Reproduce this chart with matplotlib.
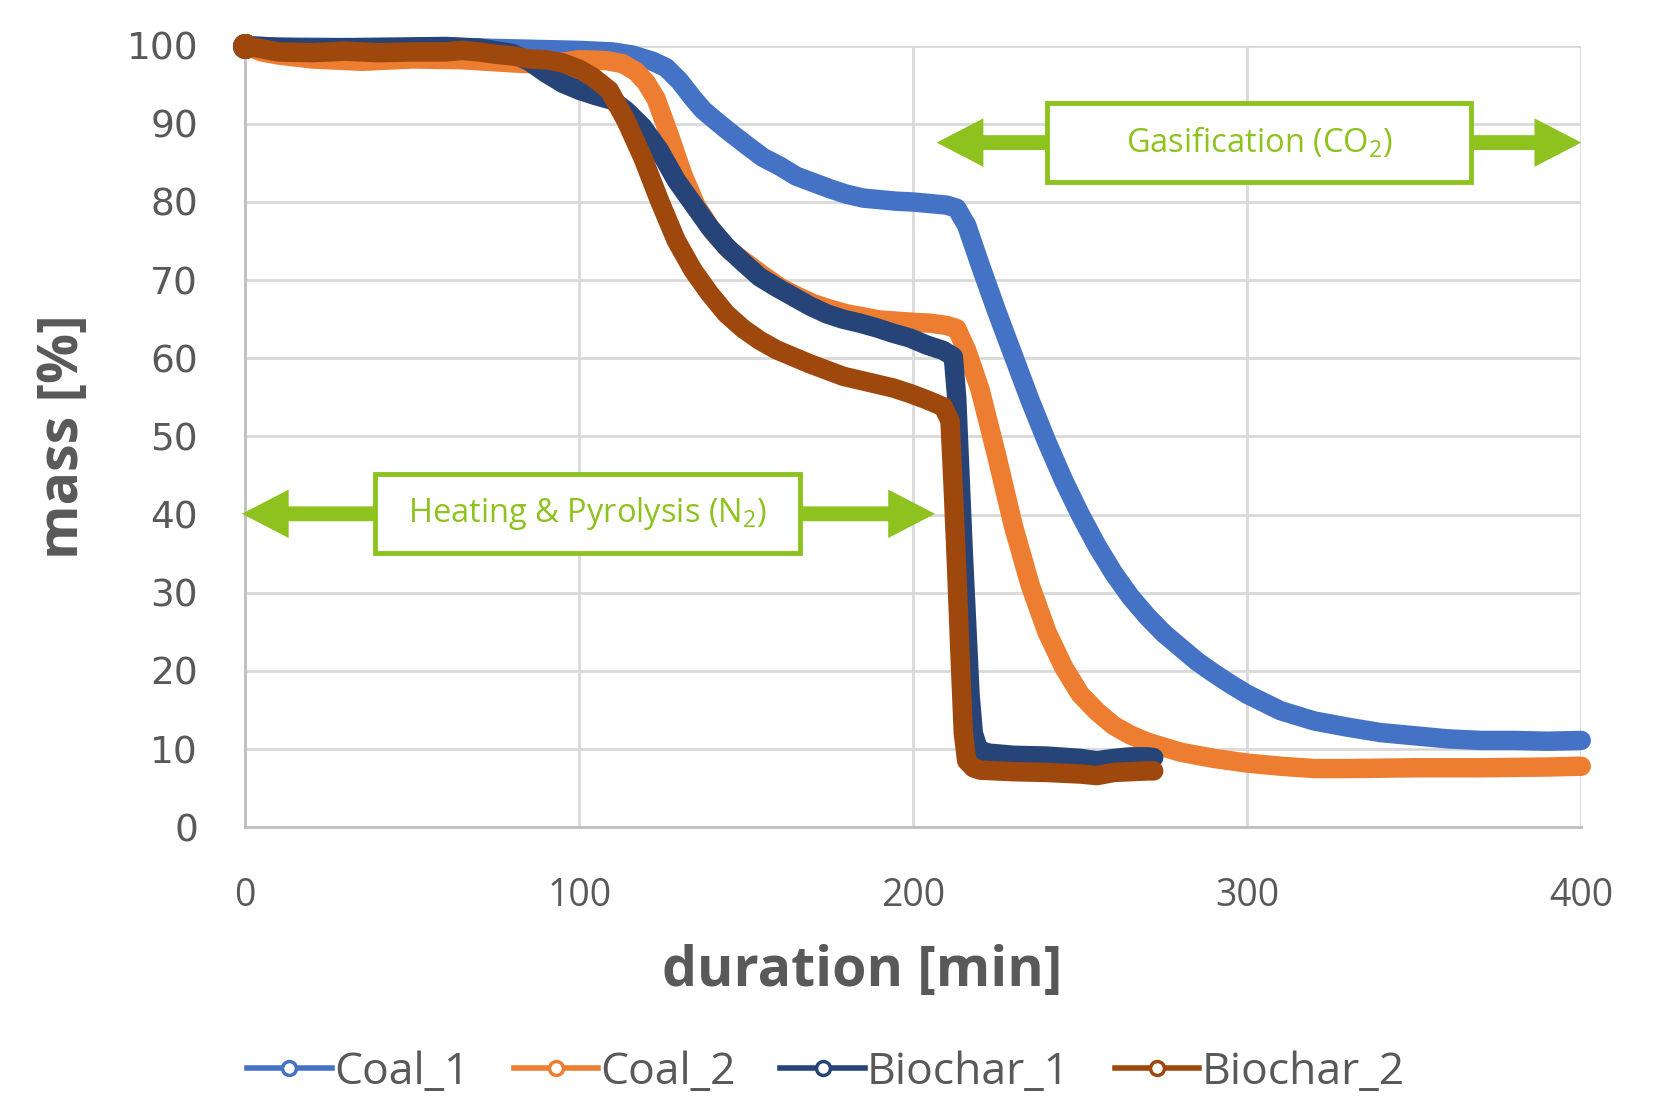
import matplotlib
matplotlib.use("Agg")
import matplotlib.pyplot as plt
from matplotlib.patches import FancyArrow, Rectangle
from matplotlib.lines import Line2D

plt.rcParams['font.family'] = ['Open Sans', 'DejaVu Sans']
plt.rcParams['mathtext.default'] = 'regular'

# thermogravimetric runs, mass in % vs duration in min
coal1_t = [0, 10, 20, 40, 60, 80, 90, 100, 110, 116, 122, 126, 130, 134, 137, 140, 144,
           150, 155, 160, 165, 170, 175, 180, 185, 190, 195, 200, 205, 210, 213, 216,
           220, 225, 230, 235, 240, 245, 250, 255, 260, 265, 270, 275, 280, 285, 290,
           295, 300, 310, 320, 330, 340, 350, 360, 370, 380, 390, 400]
coal1_m = [100, 99.8, 99.8, 99.7, 99.8, 99.6, 99.5, 99.4, 99.2, 98.8, 98.0, 97.2, 95.5,
           93.3, 91.8, 90.7, 89.3, 87.3, 85.7, 84.6, 83.3, 82.5, 81.7, 81.0, 80.5, 80.3,
           80.1, 80.0, 79.8, 79.6, 79.2, 77.0, 72.0, 66.0, 60.3, 54.6, 49.3, 44.4, 40.0,
           36.0, 32.5, 29.5, 27.0, 24.8, 23.0, 21.2, 19.7, 18.3, 17.0, 14.9, 13.6, 12.8,
           12.1, 11.7, 11.3, 11.1, 11.1, 11.0, 11.1]

coal2_t = [0, 5, 10, 20, 35, 50, 65, 80, 90, 100, 108, 113, 117, 120, 123, 127, 131,
           135, 140, 145, 150, 155, 160, 165, 170, 175, 180, 190, 200, 205, 210, 213,
           216, 220, 225, 230, 235, 240, 245, 250, 255, 260, 265, 270, 280, 290, 300,
           310, 320, 330, 350, 370, 390, 400]
coal2_m = [100, 99.2, 98.8, 98.3, 98.0, 98.3, 98.2, 97.8, 97.6, 98.2, 98.1, 97.7, 96.7,
           95.3, 93.2, 88.5, 83.5, 79.5, 76.2, 73.8, 72.2, 70.6, 69.1, 68.0, 67.0, 66.3,
           65.7, 64.9, 64.6, 64.5, 64.2, 63.8, 61.0, 56.0, 47.5, 38.5, 31.0, 25.0, 20.5,
           17.0, 14.8, 13.0, 11.8, 10.9, 9.6, 8.8, 8.2, 7.8, 7.5, 7.5, 7.6, 7.6, 7.7, 7.8]

bio1_t = [0, 10, 20, 40, 60, 70, 80, 85, 90, 95, 100, 105, 110, 114, 119, 124, 129,
          134, 139, 144, 149, 154, 159, 164, 169, 174, 179, 184, 189, 194, 199, 204,
          209, 212, 213, 214, 215, 216, 217, 218, 219.5, 222, 230, 240, 250, 255, 260,
          265, 270, 272]
bio1_m = [100, 99.8, 99.7, 99.8, 99.9, 99.7, 99.0, 98.0, 96.5, 95.2, 94.3, 93.6, 93.0,
          91.7, 89.6, 86.6, 82.8, 79.8, 76.8, 74.3, 72.3, 70.4, 69.1, 67.9, 66.7, 65.7,
          65.0, 64.5, 63.9, 63.2, 62.6, 61.7, 61.0, 60.2, 55.0, 45.0, 35.0, 26.0, 17.0,
          12.0, 10.0, 9.5, 9.2, 9.1, 8.8, 8.5, 8.8, 9.0, 9.0, 8.9]

bio2_t = [0, 5, 10, 20, 30, 40, 50, 60, 65, 70, 75, 80, 85, 90, 95, 100, 104, 109,
          114, 119, 124, 129, 134, 139, 144, 149, 154, 159, 164, 169, 174, 179, 184,
          189, 194, 199, 204, 209, 211, 212, 213, 214, 215, 216, 218, 220, 230, 240,
          250, 255, 260, 265, 270, 272]
bio2_m = [100, 99.6, 99.2, 99.1, 99.3, 99.1, 99.2, 99.2, 99.4, 99.2, 98.9, 98.7, 98.3,
          98.2, 97.8, 97.0, 96.0, 94.3, 90.4, 85.7, 80.2, 75.1, 71.3, 68.3, 65.7, 63.8,
          62.3, 61.1, 60.2, 59.3, 58.5, 57.7, 57.2, 56.7, 56.2, 55.5, 54.7, 53.8, 52.0,
          43.0, 33.0, 22.0, 12.0, 8.5, 7.6, 7.3, 7.1, 7.0, 6.8, 6.6, 7.0, 7.1, 7.2, 7.2]

names = ['Coal_1', 'Coal_2', 'Biochar_1', 'Biochar_2']
colors = ['#4472C4', '#ED7D31', '#264478', '#9E480E']
series = [(coal1_t, coal1_m), (coal2_t, coal2_m), (bio1_t, bio1_m), (bio2_t, bio2_m)]

green = '#8DC21F'
grey = '#595959'

fig = plt.figure(figsize=(16.65, 11.01), dpi=100)
ax = fig.add_axes([0.1473, 0.2487, 0.8024, 0.7098])

for (t, m), c in zip(series, colors):
    ax.plot(t, m, color=c, lw=14, solid_capstyle='round', solid_joinstyle='round',
            clip_on=False, zorder=3,
            marker='o', markevery=[0], ms=15, mfc='none', mec=c, mew=3)

ax.set_xlim(0, 400)
ax.set_ylim(0, 100)
ax.set_xticks([0, 100, 200, 300, 400])
ax.set_yticks(range(0, 101, 10))
ax.grid(True, color='#D9D9D9', lw=2)
ax.set_axisbelow(True)
for s in ['top', 'right']:
    ax.spines[s].set_visible(False)
for s in ['left', 'bottom']:
    ax.spines[s].set_color('#BFBFBF')
    ax.spines[s].set_linewidth(2)
ax.tick_params(length=0, colors=grey)
ax.tick_params(axis='x', labelsize=27, pad=36)
ax.tick_params(axis='y', labelsize=27, pad=34)
for lab in ax.get_yticklabels():
    lab.set_family('DejaVu Sans')

ax.set_xlabel('duration [min]', fontsize=40, fontweight='bold', color=grey)
ax.xaxis.label.set_va('center')
ax.xaxis.set_label_coords(0.4617, -0.185)
ax.set_ylabel('mass [%]', fontsize=40, fontweight='bold', color=grey)
ax.yaxis.label.set_va('center')
ax.yaxis.set_label_coords(-0.1357, 0.5)

# phase annotations
def phase(x0, x1, y0, y1, tip_l, tip_r, ymid, label):
    box = Rectangle((x0, y0), x1 - x0, y1 - y0, fc='white', ec=green, lw=3.5,
                    zorder=5, clip_on=False)
    ax.add_patch(box)
    ax.text((x0 + x1) / 2, (y0 + y1) / 2, label, ha='center', va='center',
            color=green, fontsize=23.5, zorder=6)
    for start, end in [(x0, tip_l), (x1, tip_r)]:
        arr = FancyArrow(start, ymid, end - start, 0, width=1.9, head_width=6.2,
                         head_length=14, length_includes_head=True, color=green,
                         lw=0, zorder=5, clip_on=False)
        ax.add_patch(arr)

phase(240, 367, 82.5, 92.7, 207, 400, 87.6, r'Gasification (CO$_2$)')
phase(38.8, 166, 35.1, 45.2, -1, 206.5, 40.1, r'Heating & Pyrolysis (N$_2$)')

handles = [Line2D([], [], color=c, lw=4, marker='o', ms=10, mfc='white', mec=c, mew=2.5)
           for c in colors]
fig.legend(handles, names, loc='center', bbox_to_anchor=(0.496, 0.026), ncol=4,
           frameon=False, fontsize=32, labelcolor=grey, handlelength=1.9,
           handletextpad=0.05, columnspacing=1.0)

fig.savefig('out.png', dpi=100)
